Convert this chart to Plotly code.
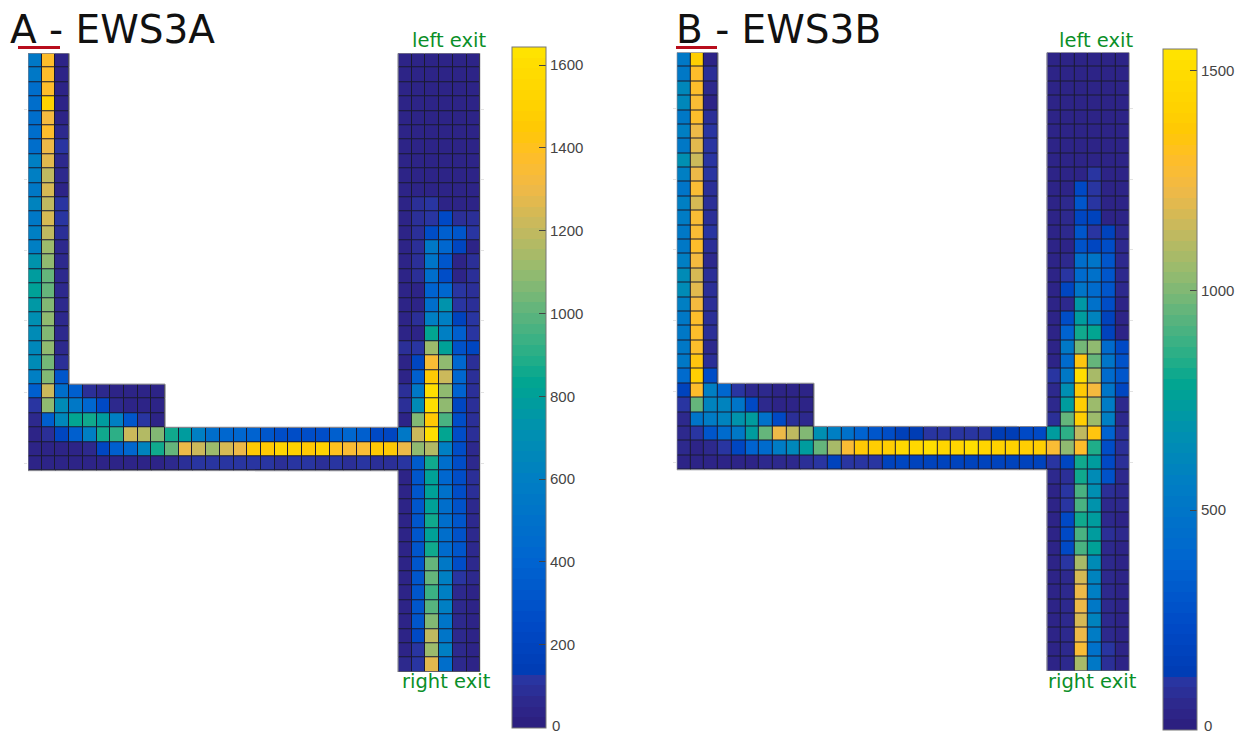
import plotly.graph_objects as go

N_ROWS, N_COLS = 43, 33

# ---------- Panel A values ----------
A_left = [[540,1380,50],[540,1370,50],[470,1380,50],[470,1500,50],[470,1320,50],[470,1370,60],
          [470,1290,120],[610,1260,60],[610,1190,60],[540,1240,50],[640,1190,120],[540,1240,105],
          [610,1190,85],[610,1120,55],[720,1090,55],[780,1020,55],[820,1020,55],[770,1060,55],
          [700,1090,55],[680,1070,55],[650,1090,55],[680,1040,100],[610,1060,310]]
A_elbow = [[380,1210,470,380,100,55,50,50,45,45],
           [120,1090,680,540,430,240,60,50,45,45],
           [60,380,650,830,860,790,610,320,120,50]]
A_corridor = [[50,80,220,380,600,860,910,1210,1170,1060,860,790,610,480,420,420,400,320,280,280,270,270,380,430,360,250,220],
              [45,45,50,50,55,210,360,420,630,860,1010,1290,1210,1110,1250,1290,1440,1440,1540,1500,1440,1500,1400,1350,1350,1440,1440],
              [40,40,45,45,45,50,50,50,50,50,55,100,110,120,115,110,110,110,100,110,115,95,105,100,115,100,100]]
A_exit = [[30,30,30,35,35,35],[30,30,30,30,35,35],[30,30,30,30,30,35],[30,30,30,30,35,35],[30,30,35,35,35,35],
          [30,30,30,30,35,35],[30,30,30,30,30,35],[30,30,30,30,35,35],[30,30,30,35,35,35],[30,30,35,35,35,35],
          [40,80,115,40,40,40],[40,85,120,240,85,85],[40,85,270,360,310,115],[40,85,560,420,210,50],
          [40,85,520,330,45,85],[40,80,470,280,45,80],[40,50,400,430,120,85],[40,50,470,730,120,85],
          [40,85,610,610,200,110],[40,50,830,610,380,120],[100,120,1130,800,300,220],[50,210,1350,1090,430,85],
          [50,380,1440,1210,430,100],[100,540,1610,1090,400,100],[100,670,1610,1090,220,100],[50,1060,1460,970,260,100],
          [540,1210,1610,830,280,85],[1300,1090,1170,610,280,60],[120,340,860,480,280,60],[50,310,800,430,280,100],
          [50,310,800,500,270,85],[50,320,800,470,300,55],[50,320,860,470,310,55],[50,320,810,470,300,55],
          [50,310,850,440,310,55],[50,310,1010,540,280,55],[50,310,1020,610,120,55],[50,310,950,610,55,50],
          [50,320,1000,610,55,50],[50,320,1060,520,60,50],[50,240,1190,520,55,50],[50,120,1130,610,55,50],
          [55,120,1260,470,55,50]]

# ---------- Panel B values ----------
B_left = [[510,1390,40],[510,1305,85],[620,1305,50],[620,1280,40],[530,1305,75],[575,1220,100],
          [530,1190,112],[660,1160,112],[570,1220,100],[500,1280,95],[570,1180,95],[540,1280,95],
          [530,1280,100],[520,1305,90],[575,1250,70],[650,1170,90],[640,1190,90],[560,1250,85],
          [520,1305,85],[510,1305,85],[530,1300,65],[520,1350,85],[420,1400,250]]
B_elbow = [[190,1305,575,400,110,50,50,40,40,40],
           [100,965,590,580,500,225,50,45,45,45],
           [50,500,540,600,680,745,460,240,75,50]]
B_corridor = [[50,110,295,430,530,745,965,1220,1130,1000,660,570,470,380,300,250,150,140,110,110,100,100,110,140,140,225,225],
              [50,45,55,110,210,370,420,550,620,745,965,1070,1260,1360,1400,1400,1470,1470,1520,1450,1450,1520,1450,1420,1420,1390,1380],
              [40,40,45,45,40,40,50,50,60,75,110,170,105,100,110,170,200,180,175,180,175,170,175,180,175,180,185]]
B_exit = [[30,30,30,30,32,35],[30,30,30,30,32,35],[30,30,30,30,32,35],[30,30,30,30,32,35],[30,30,30,30,32,35],
          [30,30,30,30,32,35],[30,30,30,30,32,35],[30,30,30,30,32,35],[30,30,35,110,30,30],[30,30,230,110,40,40],
          [30,60,300,110,40,40],[30,60,210,190,40,40],[35,65,290,110,180,65],[35,45,280,210,250,50],
          [35,60,450,490,300,50],[35,112,430,470,290,50],[35,210,500,420,300,50],[35,55,720,460,250,45],
          [35,250,730,590,190,40],[35,370,815,790,190,45],[35,510,990,1030,430,240],[45,430,1350,965,490,280],
          [100,530,1520,1080,430,290],[50,670,1370,1240,500,215],[70,735,1400,1050,540,50],[90,965,1380,1050,560,50],
          [730,860,1130,1340,380,85],[1260,1030,1300,840,250,75],[110,200,815,735,240,75],[50,85,810,640,285,55],
          [45,110,900,670,85,60],[45,110,910,680,60,50],[45,225,815,740,70,45],[45,225,915,735,90,55],
          [45,225,915,750,65,45],[45,110,1070,650,60,45],[40,60,1180,580,60,40],[40,55,1215,570,60,40],
          [40,55,1220,520,60,40],[40,50,1180,580,60,40],[40,50,1225,540,60,40],[40,55,1260,460,100,45],
          [40,55,1085,510,90,45]]

A_ZMAX, B_ZMAX = 1644.5, 1547.8
ZMIN = -1
A_TICKS = [0, 200, 400, 600, 800, 1000, 1200, 1400, 1600]
B_TICKS = [0, 500, 1000, 1500]
TITLES = ["A - EWS3A", "B - EWS3B"]

# colour anchors of the custom map: (fraction of range, rgb)
ANCHORS = [(0.000,(44,30,125)),(0.037,(45,40,140)),(0.076,(40,55,165)),(0.082,(0,60,180)),
           (0.152,(0,74,198)),(0.244,(0,100,208)),(0.366,(0,127,195)),(0.439,(0,145,175)),
           (0.506,(0,165,145)),(0.549,(40,175,135)),(0.610,(95,180,125)),(0.671,(150,187,110)),
           (0.732,(195,185,95)),(0.793,(240,185,70)),(0.841,(255,190,40)),(0.878,(255,200,5)),
           (0.915,(255,210,0)),(0.976,(255,222,0)),(1.000,(255,230,0))]
LEVELS = 64


def sample(f):
    for (f0, c0), (f1, c1) in zip(ANCHORS, ANCHORS[1:]):
        if f <= f1:
            t = (f - f0) / (f1 - f0)
            return tuple(round(a + (b - a) * t) for a, b in zip(c0, c1))
    return ANCHORS[-1][1]


colorscale = []
for i in range(LEVELS):
    c = "rgb(%d,%d,%d)" % sample((i + 0.5) / LEVELS)
    colorscale.append([i / LEVELS, c])
    colorscale.append([(i + 1) / LEVELS, c])


def build_grid(left, elbow, corridor, exit_):
    g = [[None] * N_COLS for _ in range(N_ROWS)]
    for r, row in enumerate(left):
        g[r][0:len(row)] = row
    for r, row in enumerate(elbow):
        g[23 + r][0:len(row)] = row
    for r, row in enumerate(corridor):
        g[26 + r][0:len(row)] = row
    for r, row in enumerate(exit_):
        g[r][27:33] = row
    return g


def outline(grid):
    xs, ys = [], []
    def val(r, c):
        return grid[r][c] if 0 <= r < N_ROWS and 0 <= c < N_COLS else None
    for r in range(N_ROWS):
        for c in range(N_COLS):
            if grid[r][c] is None:
                continue
            if val(r - 1, c) is None:
                xs += [c - .5, c + .5, None]; ys += [r - .5, r - .5, None]
            if val(r + 1, c) is None:
                xs += [c - .5, c + .5, None]; ys += [r + .5, r + .5, None]
            if val(r, c - 1) is None:
                xs += [c - .5, c - .5, None]; ys += [r - .5, r + .5, None]
            if val(r, c + 1) is None:
                xs += [c + .5, c + .5, None]; ys += [r - .5, r + .5, None]
    return xs, ys


W, H = 1250, 734
fig = go.Figure()

PANELS = [
    dict(grid=build_grid(A_left, A_elbow, A_corridor, A_exit), zmax=A_ZMAX, ticks=A_TICKS, xa="x", ya="y",
         px=(28, 480.3), py=(53.2, 672), bar=(511.7, 47.3, 727.8), title=TITLES[0], tx=8,
         ul=(18, 60), lx=448.5, rx=446.5, zero=(551, 725)),
    dict(grid=build_grid(B_left, B_elbow, B_corridor, B_exit), zmax=B_ZMAX, ticks=B_TICKS, xa="x2", ya="y2",
         px=(676.8, 1129.3), py=(52.5, 671), bar=(1163, 49.3, 730.4), title=TITLES[1], tx=674,
         ul=(676, 717), lx=1095.5, rx=1092.5, zero=(1203, 725)),
]

for p in PANELS:
    g = p["grid"]
    mask = [[None if v is None else 1 for v in row] for row in g]
    fig.add_trace(go.Heatmap(z=mask, zmin=0, zmax=1, xaxis=p["xa"], yaxis=p["ya"], showscale=False,
                             colorscale=[[0, "#1a1a30"], [1, "#1a1a30"]], hoverinfo="skip"))
    x0, top, bottom = p["bar"]
    shown = p["ticks"][1:]
    fig.add_trace(go.Heatmap(
        z=g, zmin=ZMIN, zmax=p["zmax"], xaxis=p["xa"], yaxis=p["ya"], colorscale=colorscale,
        xgap=1, ygap=1,
        colorbar=dict(
            x=x0 / W, xanchor="left", xpad=0, ypad=0,
            y=1 - bottom / H, yanchor="bottom", len=(bottom - top) / H, lenmode="fraction",
            thickness=34, thicknessmode="pixels",
            tickmode="array", tickvals=shown, ticktext=[str(t) for t in shown],
            ticks="inside", ticklen=7, tickwidth=1, tickcolor="#444",
            tickfont=dict(family="Liberation Sans", size=15, color="#444"),
            outlinecolor="#777", outlinewidth=1,
        )))
    ox, oy = outline(g)
    fig.add_trace(go.Scatter(x=ox, y=oy, mode="lines", xaxis=p["xa"], yaxis=p["ya"], showlegend=False,
                             line=dict(color="#85858f", width=1.2), hoverinfo="skip"))

TICK_ROWS = [3.4, 8.3, 13.2, 18.1, 23.1, 28]
axis_common = dict(showgrid=False, zeroline=False, showline=False)
for p, sx in zip(PANELS, ["", "2"]):
    fig.layout["xaxis" + sx] = dict(domain=[p["px"][0] / W, p["px"][1] / W], range=[-0.5, N_COLS - 0.5],
                                    showticklabels=False, ticks="", anchor="y" + sx, **axis_common)
    fig.layout["yaxis" + sx] = dict(domain=[1 - p["py"][1] / H, 1 - p["py"][0] / H], range=[N_ROWS - 0.5, -0.5],
                                    showticklabels=False, ticks="outside", ticklen=3, tickcolor="#e2e2e2",
                                    tickmode="array", tickvals=TICK_ROWS, mirror="ticks",
                                    anchor="x" + sx, **axis_common)


def pixel_text(text, x, y, size, color, anchor="left", family="DejaVu Sans", pad=1):
    fig.add_annotation(text=text, x=x / W, y=1 - y / H, xref="paper", yref="paper", showarrow=False,
                       xanchor=anchor, yanchor="middle", borderpad=pad,
                       font=dict(family=family, size=size, color=color))


GREEN = "#0a8f28"
for p in PANELS:
    pixel_text(p["title"], p["tx"], 29.5, 39, "#111")
    pixel_text("left exit", p["lx"], 41, 19.5, GREEN, "center")
    pixel_text("right exit", p["rx"], 681, 19.5, GREEN, "center")
    pixel_text(str(p["ticks"][0]), p["zero"][0], p["zero"][1], 15, "#444", "left", "Liberation Sans", 0)
    fig.add_shape(type="line", xref="paper", yref="paper", x0=p["ul"][0] / W, x1=p["ul"][1] / W,
                  y0=1 - 47.5 / H, y1=1 - 47.5 / H, line=dict(color="#b80d1c", width=3))

fig.update_layout(width=W, height=H, margin=dict(l=0, r=0, t=0, b=0), paper_bgcolor="white",
                  plot_bgcolor="white", showlegend=False)

fig.write_html("out.html", config=dict(displayModeBar=False),
               post_script="document.body.style.margin='0';document.documentElement.style.overflow='hidden';")
